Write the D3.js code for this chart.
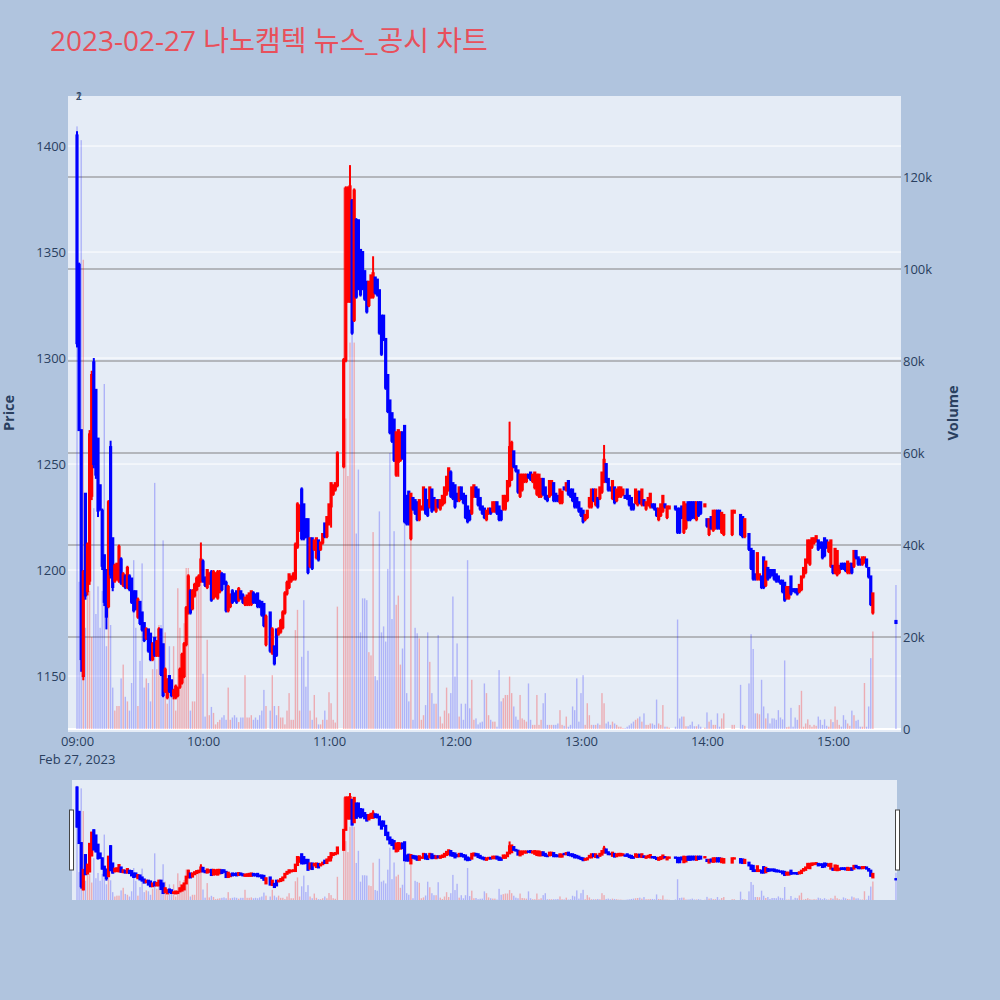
<!DOCTYPE html>
<html><head><meta charset="utf-8">
<script src="https://cdn.jsdelivr.net/npm/d3@7/dist/d3.min.js"></script>
<style>
html,body{margin:0;padding:0;background:#B0C4DE;}
svg{display:block;font-family:'Open Sans','Noto Sans CJK KR',sans-serif;}
</style></head><body>
<svg id="chart" width="1000" height="1000"></svg>
<script>
// ---------------- data ----------------
const chartTitle = "2023-02-27 나노캠텍 뉴스_공시 차트";
const tradeDate = "2023-02-27";
const dateLabel = "Feb 27, 2023";
const priceTicks = [1150, 1200, 1250, 1300, 1350, 1400];
const volumeTicks = [0, 20, 40, 60, 80, 100, 120];          // thousands of shares
const hourTicks = ["09:00", "10:00", "11:00", "12:00", "13:00", "14:00", "15:00"];
const markerLabels = ["1", "2"];
const markerTime = "09:00";

// minutes after 09:00
const minutes = [
0,1,2,3,4,5,6,7,8,9,10,11,12,13,14,15,16,17,18,19,20,21,22,23,24,25,26,27,28,29,
30,31,32,33,34,35,36,37,38,39,40,41,42,43,44,45,46,47,48,49,50,51,52,53,54,55,56,57,58,59,
60,61,62,63,64,65,66,67,68,69,70,71,72,73,74,75,76,77,78,79,80,81,82,83,84,85,86,87,88,89,
90,92,93,94,95,96,97,98,99,100,101,102,103,104,105,106,107,108,109,110,111,112,113,114,115,116,117,118,119,120,
121,122,123,124,127,128,129,130,131,132,133,134,135,136,137,138,139,140,141,142,143,144,145,146,147,148,149,150,151,152,
153,154,155,156,157,158,159,160,161,162,163,164,165,166,167,168,169,170,171,172,173,174,175,176,177,178,179,180,181,182,
183,184,185,186,187,188,189,190,191,192,193,194,195,196,197,198,199,200,201,202,203,204,205,206,207,208,209,210,211,212,
213,214,215,216,217,218,219,220,221,222,223,224,225,226,227,228,229,230,231,232,233,234,235,236,237,238,239,240,241,242,
243,244,245,246,247,248,249,250,251,252,253,254,255,256,257,258,259,260,261,262,263,264,265,266,267,268,269,270,271,272,
273,274,275,276,277,278,279,280,281,282,285,286,287,288,289,290,291,292,293,294,295,296,297,299,300,301,302,303,304,305,306,307,308,312,313,316,317,318,
320,321,322,323,324,325,326,327,328,329,330,331,332,333,334,335,336,337,338,339,340,341,342,343,344,345,346,347,348,349,
350,351,352,353,354,355,356,357,358,359,360,361,362,363,364,365,366,367,368,369,370,371,372,373,374,375,376,377,378,379,390
];
const opens = [
1405,1344,1266,1150,1236,1190,1195,1235,1298,1285,1262,1240,1228,1207,1200,1183,1258,1215,1195,1196,1195,1205,1193,1197,1192,1197,1196,1190,1190,1178,
1185,1180,1175,1168,1172,1170,1158,1168,1160,1160,1172,1165,1143,1140,1150,1148,1141,1140,1141,1145,1147,1150,1165,1180,1190,1182,1188,1191,1193,1195,
1204,1196,1192,1194,1199,1187,1188,1187,1190,1198,1198,1194,1181,1183,1190,1189,1190,1186,1190,1188,1184,1184,1184,1184,1189,1188,1189,1185,1185,1184,
1165,1180,1161,1164,1172,1170,1171,1173,1180,1189,1192,1195,1196,1196,1211,1219,1238,1231,1224,1224,1202,1215,1210,1206,1214,1210,1213,1222,1216,1222,
1230,1236,1238,1240,1249,1299,1327,1327,1374,1318,1365,1365,1351,1350,1341,1336,1325,1329,1329,1338,1337,1332,1320,1320,1309,1292,1280,1274,1271,1245,
1251,1252,1265,1268,1235,1237,1215,1234,1233,1232,1224,1229,1229,1238,1233,1230,1238,1234,1228,1233,1229,1231,1232,1236,1238,1246,1241,1240,1236,1233,
1239,1236,1235,1230,1228,1227,1235,1239,1238,1234,1230,1229,1224,1227,1229,1228,1228,1232,1230,1228,1229,1229,1233,1240,1243,1256,1249,1247,1235,1238,
1242,1242,1245,1246,1242,1239,1236,1235,1235,1243,1239,1235,1235,1236,1241,1236,1235,1232,1232,1239,1238,1242,1238,1238,1236,1234,1232,1229,1228,1224,
1225,1230,1230,1238,1231,1234,1234,1237,1242,1250,1243,1239,1234,1239,1233,1235,1235,1236,1235,1238,1235,1234,1231,1232,1231,1237,1231,1233,1229,1231,
1230,1231,1231,1229,1224,1226,1228,1231,1225,1229,1230,1229,1229,1230,1218,1220,1232,1232,1232,1232,1224,1232,1232,1230,1224,1217,1225,1219,1220,1228,1228,1218,1217,1217,1227,1226,1225,1216,
1217,1210,1209,1198,1196,1196,1197,1206,1193,1201,1200,1200,1200,1198,1197,1195,1195,1194,1187,1187,1197,1191,1191,1191,1190,1191,1197,1199,1204,1203,
1211,1213,1214,1214,1213,1213,1215,1214,1209,1202,1202,1199,1198,1199,1203,1203,1203,1199,1199,1203,1202,1209,1206,1205,1203,1204,1205,1201,1197,1180,1176
];
const highs = [
1407,1345,1266,1200,1236,1213,1266,1294,1300,1285,1262,1240,1229,1207,1200,1233,1261,1215,1203,1203,1212,1206,1199,1198,1202,1198,1196,1190,1190,1187,
1185,1180,1175,1173,1172,1170,1166,1168,1167,1173,1172,1165,1154,1149,1150,1148,1144,1146,1145,1154,1161,1166,1183,1198,1191,1191,1194,1197,1198,1213,
1205,1197,1200,1199,1200,1200,1199,1200,1200,1199,1198,1195,1193,1189,1191,1189,1190,1192,1190,1189,1187,1188,1189,1190,1190,1189,1189,1186,1185,1184,
1179,1180,1173,1164,1172,1173,1177,1181,1190,1195,1198,1197,1199,1213,1232,1231,1239,1231,1224,1224,1215,1215,1214,1215,1214,1213,1217,1222,1225,1231,
1241,1240,1241,1256,1300,1381,1381,1391,1375,1380,1366,1365,1351,1350,1341,1336,1336,1339,1348,1338,1337,1332,1320,1320,1309,1292,1280,1274,1271,1265,
1266,1265,1265,1268,1235,1237,1236,1234,1233,1232,1233,1230,1239,1238,1233,1239,1238,1234,1233,1233,1233,1235,1239,1244,1248,1247,1241,1240,1236,1239,
1239,1236,1235,1230,1228,1239,1240,1239,1238,1234,1230,1229,1228,1229,1229,1232,1232,1232,1230,1228,1235,1235,1242,1270,1261,1256,1249,1247,1245,1245,
1245,1245,1245,1246,1245,1246,1245,1245,1243,1243,1239,1235,1242,1242,1241,1236,1235,1238,1237,1239,1241,1242,1238,1238,1236,1234,1232,1229,1228,1226,
1228,1234,1238,1238,1238,1234,1239,1246,1259,1250,1243,1239,1242,1239,1238,1239,1239,1238,1235,1238,1235,1234,1231,1238,1237,1237,1238,1233,1232,1234,
1236,1231,1231,1229,1229,1231,1235,1231,1230,1230,1230,1229,1229,1230,1232,1231,1232,1232,1232,1232,1232,1232,1232,1231,1224,1224,1225,1228,1228,1228,1228,1227,1226,1228,1228,1226,1225,1224,
1217,1210,1209,1198,1208,1198,1197,1206,1204,1201,1200,1200,1200,1198,1197,1195,1195,1194,1192,1192,1197,1191,1191,1191,1193,1197,1201,1205,1214,1214,
1215,1215,1216,1214,1213,1213,1215,1214,1213,1214,1202,1210,1209,1202,1203,1203,1203,1204,1203,1203,1209,1209,1206,1205,1206,1206,1205,1201,1197,1189,1176
];
const lows = [
1305,1266,1152,1148,1186,1188,1193,1233,1248,1243,1225,1228,1200,1183,1172,1182,1196,1190,1194,1195,1194,1193,1192,1191,1191,1190,1184,1180,1181,1177,
1174,1171,1166,1167,1161,1157,1157,1159,1159,1159,1150,1140,1142,1139,1142,1140,1139,1139,1140,1144,1146,1149,1164,1179,1179,1181,1187,1190,1192,1194,
1194,1192,1191,1193,1185,1186,1187,1186,1189,1190,1193,1180,1180,1182,1184,1185,1184,1185,1186,1184,1183,1183,1183,1183,1184,1184,1182,1182,1178,1173,
1164,1161,1160,1155,1159,1169,1170,1172,1179,1188,1191,1194,1195,1195,1210,1218,1214,1214,1215,1198,1201,1200,1209,1205,1204,1209,1212,1215,1215,1221,
1220,1235,1237,1239,1248,1298,1326,1326,1311,1317,1328,1332,1329,1332,1327,1321,1324,1328,1328,1330,1329,1311,1301,1308,1285,1274,1264,1260,1251,1244,
1244,1251,1252,1222,1221,1221,1214,1228,1226,1223,1223,1228,1228,1226,1225,1229,1227,1228,1227,1229,1228,1230,1231,1235,1237,1234,1233,1229,1232,1232,
1233,1231,1224,1222,1223,1226,1234,1234,1230,1228,1226,1224,1223,1226,1226,1227,1227,1226,1223,1223,1228,1228,1232,1239,1242,1248,1246,1236,1234,1237,
1241,1241,1243,1242,1241,1238,1235,1234,1234,1235,1233,1232,1234,1235,1232,1232,1232,1231,1231,1238,1237,1235,1234,1232,1229,1229,1227,1225,1222,1223,
1224,1229,1229,1232,1230,1229,1233,1236,1241,1241,1237,1237,1233,1231,1232,1234,1234,1235,1234,1233,1230,1228,1228,1231,1230,1231,1230,1230,1228,1230,
1229,1229,1228,1225,1223,1225,1227,1229,1224,1229,1228,1217,1217,1224,1217,1219,1223,1223,1224,1224,1223,1225,1226,1230,1220,1216,1219,1218,1219,1219,1219,1217,1216,1216,1227,1216,1215,1215,
1209,1200,1195,1195,1195,1195,1191,1191,1192,1195,1196,1197,1195,1194,1194,1193,1189,1185,1186,1186,1188,1190,1189,1188,1189,1190,1196,1198,1203,1202,
1210,1212,1213,1209,1210,1205,1206,1210,1208,1201,1198,1198,1197,1198,1200,1200,1199,1198,1198,1198,1201,1205,1202,1202,1202,1203,1201,1196,1183,1179,1175
];
const closes = [
1307,1266,1158,1199,1188,1212,1264,1292,1250,1245,1228,1229,1202,1185,1178,1232,1198,1192,1202,1203,1211,1194,1198,1192,1201,1191,1185,1181,1182,1186,
1175,1172,1167,1172,1162,1158,1165,1160,1166,1172,1151,1141,1153,1148,1143,1141,1143,1145,1144,1153,1160,1165,1182,1197,1180,1190,1193,1196,1197,1205,
1195,1193,1200,1198,1186,1199,1198,1199,1199,1191,1194,1181,1192,1188,1185,1186,1185,1191,1187,1185,1187,1188,1189,1190,1185,1185,1183,1183,1179,1174,
1178,1162,1172,1156,1160,1172,1176,1180,1189,1194,1198,1197,1198,1212,1231,1230,1215,1215,1216,1199,1215,1201,1214,1215,1205,1213,1217,1216,1225,1231,
1241,1240,1241,1255,1299,1380,1380,1381,1312,1379,1329,1333,1330,1333,1328,1322,1336,1339,1340,1331,1330,1312,1302,1309,1286,1275,1265,1261,1252,1265,
1266,1265,1253,1223,1222,1222,1236,1229,1227,1224,1233,1230,1239,1227,1226,1239,1228,1229,1233,1230,1233,1235,1239,1244,1248,1235,1234,1230,1233,1239,
1234,1232,1225,1223,1224,1239,1240,1235,1231,1229,1227,1225,1228,1229,1227,1232,1232,1227,1224,1224,1235,1235,1242,1258,1260,1249,1247,1237,1245,1245,
1245,1245,1244,1243,1245,1246,1245,1245,1243,1236,1234,1233,1242,1242,1233,1233,1233,1238,1237,1238,1241,1236,1235,1233,1230,1230,1228,1226,1223,1226,
1228,1234,1238,1233,1238,1230,1239,1246,1252,1242,1238,1238,1242,1232,1238,1239,1239,1238,1234,1234,1231,1229,1229,1238,1237,1232,1238,1231,1232,1234,
1236,1230,1229,1226,1229,1231,1235,1230,1230,1230,1229,1218,1218,1225,1232,1231,1224,1224,1225,1225,1232,1226,1227,1231,1221,1224,1220,1228,1228,1220,1220,1227,1226,1228,1228,1217,1216,1224,
1210,1201,1196,1196,1208,1198,1192,1192,1204,1196,1197,1198,1196,1195,1195,1194,1190,1186,1192,1192,1189,1190,1190,1189,1193,1197,1201,1205,1214,1214,
1215,1215,1216,1210,1211,1206,1207,1211,1213,1214,1199,1210,1209,1202,1201,1201,1200,1204,1203,1199,1209,1206,1203,1203,1206,1206,1202,1197,1184,1189,1175
];
// thousands of shares
const volumes = [
131,32,128,102,22,37,30,20,48,25,31,22,30,75,18,27.6,22.6,9,4,5,5,11,14,7,6,4,10,36.7,22,5,
14.8,36,9,11,10,6,13,53.5,13,22.6,22.6,41,21,5.5,18,8,18,4,30.6,22,10,23,35,35,4,6,6,32,33,32,
12,2.7,19.4,3,4.8,3.5,1,1.5,2,2.5,3,2,9,2,2.5,3,2.5,1.5,2.5,2.5,11.7,2.5,2.5,3,2,2.5,2,3,4,8.5,
5,4,11.7,5,3,5,2.5,2.5,1,4,7.8,2,2,21.5,25.9,4,15.7,28,9.2,17,4,2,7.4,2.5,1,1,2,4,2,8,
5.6,2,1.4,26.6,117.7,67.5,55,84,86,84,42.5,56.4,21,28.4,28.4,28,16.7,16,42.8,11.5,10.6,47.3,21,22.3,19,34.8,60,23.9,43,27,
29,14,17.5,51.7,7.8,6,43.6,2,22,20.8,19.7,2,3,5.2,21,14.6,7.8,5.5,5.5,20.4,2.7,1.2,4,9,3.4,7.8,28.8,11.4,18.6,2.7,
5.5,2,5.5,36.7,4.5,10.7,2,2.3,1,1.4,1.6,9.9,7.8,3,2,1.6,1.6,0.5,12.8,6,6.7,7.4,7.4,11.4,7.8,4.9,2.7,2,7.4,2.3,
2,1.6,9.9,2,0.9,0.9,7.4,0.9,2,5.6,7.8,0.9,0.9,0.9,0.9,0.9,1.2,4.1,0.9,0.7,2.7,0.5,0.9,4.9,4.1,11,1.6,7.8,11.7,0.9,
5.6,3,0.9,0.9,0.9,1.2,0.9,7.8,5.6,1.2,1.6,0.9,1.6,1.2,0.9,0.5,0.5,0.2,0.2,0.5,0.8,1.2,1.6,2,2.3,2.7,1.6,3.4,0.9,0.9,
1.2,1.2,0.9,6.4,1.2,0.9,5.2,0.5,0.5,0.3,0.5,23.8,2.3,2.7,2.7,0.6,0.6,0.9,1.6,0.6,0.6,1,0.5,0.3,3.6,1.6,2,0.9,0.9,3.4,0.5,2.3,3.4,0.9,0.9,9.6,0.9,0.7,
9.9,20.6,17.4,3.4,3.4,3.2,10.7,4.9,2.3,3.4,1.2,2.3,2.3,2,4.1,2.5,2.1,14.9,0.4,0.5,4.6,0.5,2.5,2,5.2,8.3,0.5,1.2,2.1,0.9,
0.5,0.9,0.7,2.7,2,0.9,2.1,0.7,0.5,2.1,1.5,4.9,2,0.9,0.5,3,2,1.2,0.7,4,3,1.8,2,0.5,0.5,10,0.5,4.9,15.4,21.2,31.3
];

// ---------------- layout ----------------
const svg = d3.select("#chart");
const PL = 68, PR = 901, PT = 96, PB = 732;       // main plot
const SL = 72, SR = 897, ST = 780, SB = 900;      // range slider
const RED = "#ff0000", BLUE = "#0000ff";
const TXT = "#2a3f5f";
const FONT = "'Open Sans',sans-serif";

const parseT = d3.timeParse("%Y-%m-%d %H:%M");
const base = parseT(tradeDate + " 09:00");
const at = m => new Date(base.getTime() + m * 60000);

const candles = minutes.map((m, i) => ({
  t: at(m), o: opens[i], h: highs[i], l: lows[i], c: closes[i], v: volumes[i]
}));
const col = d => d.c >= d.o ? RED : BLUE;

const x = d3.scaleTime().domain([at(-4.29), at(392.4)]).range([PL, PR]);
const yP = d3.scaleLinear().domain([1123.6, 1423.6]).range([PB, PT]);
const yV = d3.scaleLinear().domain([0, 137.6]).range([729, PT]);
const yPs = d3.scaleLinear().domain([1123.6, 1423.6]).range([SB, ST]);
const yVs = d3.scaleLinear().domain([0, 137.6]).range([SB, ST]);

svg.append("rect").attr("width", 1000).attr("height", 1000).attr("fill", "#B0C4DE");

// title
svg.append("text").attr("x", 50).attr("y", 51)
  .attr("font-size", 28).attr("fill", "#e8505b").text(chartTitle);

// plot background
svg.append("rect").attr("x", PL).attr("y", PT).attr("width", PR - PL).attr("height", PB - PT)
  .attr("fill", "#E5ECF6");

const defs = svg.append("defs");
defs.append("clipPath").attr("id", "clipMain").append("rect")
  .attr("x", PL).attr("y", PT).attr("width", PR - PL).attr("height", PB - PT);
defs.append("clipPath").attr("id", "clipSlider").append("rect")
  .attr("x", SL).attr("y", ST).attr("width", SR - SL).attr("height", SB - ST);

// grid lines
const grid = svg.append("g");
grid.selectAll("line.pg").data(priceTicks).join("line")
  .attr("x1", PL).attr("x2", PR).attr("y1", d => yP(d)).attr("y2", d => yP(d))
  .attr("stroke", "#ffffff").attr("stroke-width", 1);
grid.selectAll("line.vg").data(volumeTicks.filter(d => d > 0)).join("line")
  .attr("class", "vg")
  .attr("x1", PL).attr("x2", PR).attr("y1", d => yV(d)).attr("y2", d => yV(d))
  .attr("stroke", "#a2a4a8").attr("stroke-width", 1.5);
grid.append("line").attr("x1", PL).attr("x2", PR).attr("y1", yV(0)).attr("y2", yV(0))
  .attr("stroke", "#ffffff").attr("stroke-width", 2);

function drawVolume(g, yv, w) {
  g.selectAll("rect").data(candles).join("rect")
    .attr("x", d => x(d.t) - w / 2).attr("width", w)
    .attr("y", d => yv(d.v)).attr("height", d => yv(0) - yv(d.v))
    .attr("fill", d => d.c >= d.o ? "rgba(255,0,0,0.27)" : "rgba(0,0,255,0.24)");
}
function drawCandles(g, yp) {
  const c = g.selectAll("g").data(candles).join("g")
    .attr("stroke", col).attr("fill", col).attr("stroke-width", 2);
  c.append("line")
    .attr("x1", d => x(d.t)).attr("x2", d => x(d.t))
    .attr("y1", d => yp(d.h)).attr("y2", d => yp(d.l));
  c.append("rect")
    .attr("x", d => x(d.t) - 0.6).attr("width", 1.2)
    .attr("y", d => yp(Math.max(d.o, d.c)))
    .attr("height", d => Math.abs(yp(d.o) - yp(d.c)));
}

const main = svg.append("g").attr("clip-path", "url(#clipMain)");
drawVolume(main.append("g"), yV, 1.4);
drawCandles(main.append("g"), yP);

// axes
const axisStyle = g => {
  g.select(".domain").remove();
  g.attr("font-family", FONT).attr("font-size", 13);
  g.selectAll("text").attr("fill", TXT).attr("font-size", 13).attr("font-family", FONT);
};
svg.append("g").attr("transform", `translate(${PL},0)`)
  .call(d3.axisLeft(yP).tickValues(priceTicks).tickSize(0).tickPadding(2)
    .tickFormat(d3.format("d")))
  .call(axisStyle);
svg.append("g").attr("transform", `translate(${PR},0)`)
  .call(d3.axisRight(yV).tickValues(volumeTicks).tickSize(0).tickPadding(2)
    .tickFormat(d => d === 0 ? "0" : d + "k"))
  .call(axisStyle);
const xAx = svg.append("g").attr("transform", `translate(0,${PB})`)
  .call(d3.axisBottom(x).tickValues(hourTicks.map(h => parseT(tradeDate + " " + h)))
    .tickFormat(d3.timeFormat("%H:%M")).tickSize(0).tickPadding(0))
  .call(axisStyle);
xAx.selectAll("text").attr("dy", null).attr("y", 14);
svg.append("text").attr("x", x(base)).attr("y", 764).attr("text-anchor", "middle")
  .attr("font-size", 13).attr("font-family", FONT).attr("fill", TXT).text(dateLabel);

// axis titles
svg.append("text").attr("transform", "translate(14,413) rotate(-90)")
  .attr("text-anchor", "middle").attr("font-size", 14.5).attr("font-weight", "bold")
  .attr("font-family", FONT).attr("fill", TXT).text("Price");
svg.append("text").attr("transform", "translate(958,413) rotate(-90)")
  .attr("text-anchor", "middle").attr("font-size", 14.5).attr("font-weight", "bold")
  .attr("font-family", FONT).attr("fill", TXT).text("Volume");

// markers at the top
svg.selectAll("text.mk").data(markerLabels).join("text")
  .attr("x", x(parseT(tradeDate + " " + markerTime)) + 2).attr("y", 100)
  .attr("text-anchor", "middle").attr("font-size", 11).attr("font-family", FONT)
  .attr("fill", TXT).text(d => d);

// range slider
svg.append("rect").attr("x", SL).attr("y", ST).attr("width", SR - SL).attr("height", SB - ST)
  .attr("fill", "#E5ECF6");
const sl = svg.append("g").attr("clip-path", "url(#clipSlider)");
drawVolume(sl.append("g"), yVs, 1.4);
drawCandles(sl.append("g"), yPs);
[[69.5, 810], [895.5, 810]].forEach(([hx, hy]) => {
  svg.append("rect").attr("x", hx).attr("y", hy).attr("width", 4).attr("height", 60)
    .attr("fill", "#ffffff").attr("stroke", "#444").attr("stroke-width", 1);
});
</script>
</body></html>
